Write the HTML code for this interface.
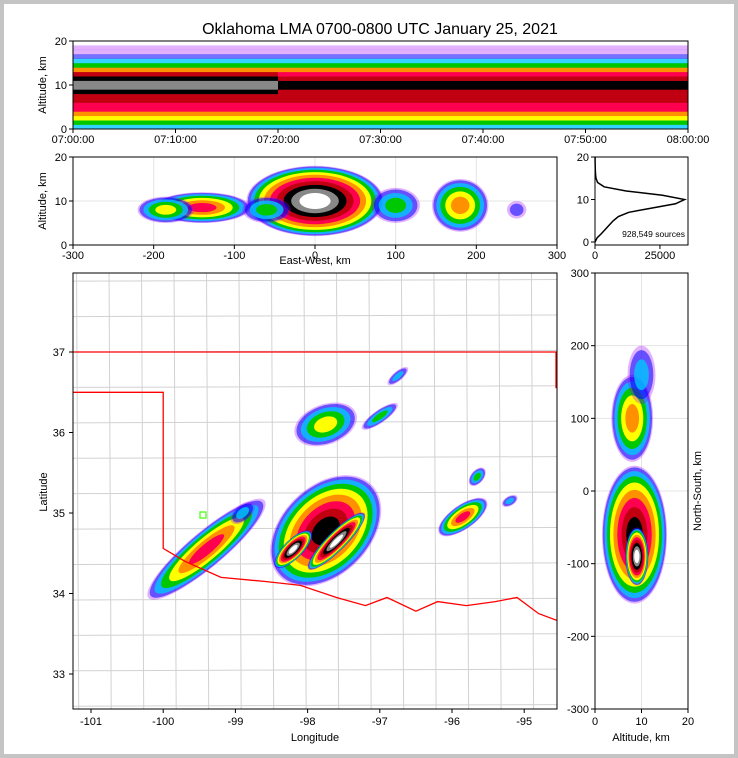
<!DOCTYPE html>
<html><head><meta charset="utf-8">
<style>
html,body{margin:0;padding:0;background:#fff}
body{width:738px;height:758px;overflow:hidden;font-family:"Liberation Sans",sans-serif}
#frame{position:absolute;left:0;top:0;width:730px;height:750px;border:4px solid #c4c4c4;background:#fff}
svg{position:absolute;left:0;top:0}
text{font-family:"Liberation Sans",sans-serif;fill:#000}
</style></head>
<body>
<div id="frame"></div>
<svg id="fig" width="738" height="758">
<text x="380" y="34" font-size="16" text-anchor="middle">Oklahoma LMA 0700-0800 UTC January 25, 2021</text>
</svg>
<script>
// ---- data ----
const levelColors=['#ffffff','#a000ff','#0000ff','#00c8ff','#00c800','#ffff00','#ff9000','#ff0050','#c00010','#000000','#888888','#ffffff'];
const levelOpacity=[0,0.3,0.55,0.8,1,1,1,1,1,1,1,1];
const timeTicks=['07:00:00','07:10:00','07:20:00','07:30:00','07:40:00','07:50:00','08:00:00'];
const altBins=[0,1,2,3,4,5,6,7,8,9,10,11,12,13,14,15,16,17,18,19];
const profileEarly=[3,4,5,6,7,7,8,8,9,10,10,9,8,6,4,3,2,1,1,0];
const profileLate=[3,4,5,6,7,7,8,8,8,9,9,8,7,6,4,3,2,1,1,0];
const segStart=[0,20];
const segEnd=[20,60];
// EW vs altitude blobs: x km, z km, half-width km, half-height km, peak level
const ewX=[0,-140,-185,180,100,250,-60];
const ewZ=[10,8.5,8,9,9,8,8];
const ewW=[85,60,35,35,30,12,30];
const ewH=[8,3.5,3,6,4,2,3];
const ewPeak=[11,7,5,6,4,2,4];
// histogram: sources per altitude km
const histAlt=[0,1,2,3,4,5,6,7,8,9,10,11,12,13,14,15,16,17,18,19,20];
const histCount=[0,800,2500,4000,5500,7000,9000,13000,22000,31000,34500,26000,12000,3500,1000,400,200,120,80,50,30];
// map blobs: lon, lat, major half (deg lon), minor half (deg), screen angle, peak
const mapLon=[-97.75,-99.4,-97.75,-95.85,-97.0,-95.65,-96.75,-95.2,-98.2,-97.6,-98.9];
const mapLat=[34.78,34.55,36.1,34.95,36.2,35.45,36.7,35.15,34.55,34.65,35.0];
const mapA=[0.9,1.05,0.45,0.4,0.3,0.15,0.18,0.12,0.35,0.55,0.2];
const mapB=[0.55,0.22,0.25,0.15,0.08,0.08,0.06,0.06,0.12,0.12,0.1];
const mapAng=[-45,-40,-20,-35,-35,-50,-40,-30,-45,-45,-40];
const mapPeak=[9,7,5,7,4,4,3,3,11,11,3];
// NS vs altitude blobs: alt km, y km, half alt, half y, peak
const nsAlt=[8.5,9,8,10];
const nsY=[-60,-90,100,160];
const nsHA=[7,2.5,4.5,3];
const nsHY=[95,40,60,40];
const nsPeak=[9,11,6,3];
const lonTicks=[-101,-100,-99,-98,-97,-96,-95];
const latTicks=[33,34,35,36,37];

// ---- helpers ----
const NS='http://www.w3.org/2000/svg';
const svg=document.getElementById('fig');
function el(tag,attrs,parent){const e=document.createElementNS(NS,tag);for(const k in attrs)e.setAttribute(k,attrs[k]);(parent||svg).appendChild(e);return e;}
function txt(x,y,s,size,anchor,parent,rot){const t=el('text',{x:x,y:y,'font-size':size,'text-anchor':anchor||'middle'},parent);if(rot)t.setAttribute('transform','rotate('+rot+' '+x+' '+y+')');t.textContent=s;return t;}
function blob(g,cx,cy,rx,ry,ang,peak){
  for(let k=1;k<=peak;k++){
    const f=1-Math.pow((k-1)/peak,1.6)*0.9;
    const e=el('ellipse',{cx:cx,cy:cy,rx:Math.max(rx*f,0.8),ry:Math.max(ry*f,0.8),fill:levelColors[k],'fill-opacity':levelOpacity[k],transform:'rotate('+ang+' '+cx+' '+cy+')'},g);
    
    
  }
}
function frameRect(x0,y0,x1,y1,name){const r=el('rect',{x:x0,y:y0,width:x1-x0,height:y1-y0,fill:'none',stroke:'#000','stroke-width':1});}

// ---- time-height panel ----
const T={x0:73,x1:688,y0:41,y1:129};
const tx=m=>T.x0+(T.x1-T.x0)*m/60, tz=z=>T.y1-(T.y1-T.y0)*z/20;
const gT=el('g',{});
for(let s=0;s<segStart.length;s++){
  const prof=s===0?profileEarly:profileLate;
  altBins.forEach((z,i)=>{const r=el('rect',{x:tx(segStart[s]),y:tz(z+1),width:tx(segEnd[s])-tx(segStart[s]),height:tz(z)-tz(z+1)+0.3,fill:levelColors[prof[i]],'fill-opacity':levelOpacity[prof[i]]},gT);
    });
}
frameRect(T.x0,T.y0,T.x1,T.y1,'time-height-axes');
[0,10,20].forEach(v=>{el('line',{x1:T.x0-4,x2:T.x0,y1:tz(v),y2:tz(v),stroke:'#000'});txt(T.x0-6,tz(v)+4,v,11,'end');});
timeTicks.forEach((s,i)=>{const x=tx(i*10);el('line',{x1:x,x2:x,y1:T.y1,y2:T.y1+4,stroke:'#000'});txt(x,T.y1+14,s,11);});
txt(46,85,'Altitude, km',11,'middle',null,-90);

// ---- EW-height panel ----
const E={x0:73,x1:557,y0:157,y1:245};
const ex=k=>E.x0+(E.x1-E.x0)*(k+300)/600, ez=z=>E.y1-(E.y1-E.y0)*z/20;
const gE=el('g',{});
[-200,-100,0,100,200].forEach(v=>el('line',{x1:ex(v),x2:ex(v),y1:E.y0,y2:E.y1,stroke:'#e4e4e4'},gE));
el('line',{x1:E.x0,x2:E.x1,y1:ez(10),y2:ez(10),stroke:'#e4e4e4'},gE);
ewX.forEach((x,i)=>blob(gE,ex(x),ez(ewZ[i]),ewW[i]*(E.x1-E.x0)/600,ewH[i]*(E.y1-E.y0)/20,0,ewPeak[i]));
frameRect(E.x0,E.y0,E.x1,E.y1,'ew-height-axes');
[0,10,20].forEach(v=>{el('line',{x1:E.x0-4,x2:E.x0,y1:ez(v),y2:ez(v),stroke:'#000'});txt(E.x0-6,ez(v)+4,v,11,'end');});
[-300,-200,-100,0,100,200,300].forEach(v=>{el('line',{x1:ex(v),x2:ex(v),y1:E.y1,y2:E.y1+4,stroke:'#000'});txt(ex(v),E.y1+14,v,11);});
txt(315,264,'East-West, km',11);
txt(46,201,'Altitude, km',11,'middle',null,-90);

// ---- histogram ----
const H={x0:595,x1:688,y0:157,y1:245};
const hx=c=>H.x0+(H.x1-H.x0)*c/35800;
const hz0=z=>H.y1-3-(H.y1-3-H.y0)*z/20;
const gH=el('g',{});
let d='';histAlt.forEach((z,i)=>{d+=(i?'L':'M')+hx(histCount[i]).toFixed(1)+','+hz0(z).toFixed(1);});
const hp=el('path',{d:d,fill:'none',stroke:'#000','stroke-width':1.5},gH);
frameRect(H.x0,H.y0,H.x1,H.y1,'histogram-axes');
[0,10,20].forEach(v=>{el('line',{x1:H.x0-4,x2:H.x0,y1:hz0(v),y2:hz0(v),stroke:'#000'});txt(H.x0-6,hz0(v)+4,v,11,'end');});
[0,25000].forEach(v=>{el('line',{x1:hx(v),x2:hx(v),y1:H.y1,y2:H.y1+4,stroke:'#000'});txt(hx(v),H.y1+14,v,11);});
txt(685,237,'928,549 sources',8.5,'end');

// ---- map ----
const M={x0:73,x1:557,y0:273,y1:709};
const mx=l=>91+(l+101)*72.2, my=a=>352+(37-a)*80.5;
const gM=el('g',{});
const cl=el('clipPath',{id:'mc'});el('rect',{x:M.x0,y:M.y0,width:M.x1-M.x0,height:M.y1-M.y0},cl);
const gC=el('g',{'clip-path':'url(#mc)'},gM);
// county-like grid
for(let l=-101.2;l<-94.5;l+=0.45){el('line',{x1:mx(l),x2:mx(l+0.03),y1:M.y0,y2:M.y1,stroke:'#d2d2d2','stroke-width':1},gC);}
for(let a=32.6;a<38;a+=0.44){el('line',{x1:M.x0,x2:M.x1,y1:my(a),y2:my(a+0.02),stroke:'#d2d2d2','stroke-width':1},gC);}
mapLon.forEach((l,i)=>blob(gC,mx(l),my(mapLat[i]),mapA[i]*72.2,mapB[i]*80.5,mapAng[i],mapPeak[i]));
// Oklahoma border
const ok=[[-101.3,37],[-94.5,37]];
const pan=[[-101.3,36.5],[-100,36.5],[-100,34.56],[-99.7,34.4],[-99.2,34.2],[-98.6,34.15],[-98.1,34.1],[-97.6,33.95],[-97.2,33.85],[-96.9,33.95],[-96.5,33.78],[-96.2,33.9],[-95.8,33.85],[-95.4,33.9],[-95.1,33.95],[-94.8,33.75],[-94.5,33.65]];
[ok,pan].forEach(p=>{let dd='';p.forEach((q,i)=>dd+=(i?'L':'M')+mx(q[0]).toFixed(1)+','+my(q[1]).toFixed(1));const pb=el('path',{d:dd,fill:'none',stroke:'#ff0000','stroke-width':1.3},gC);});
el('line',{x1:556,x2:556,y1:my(37),y2:my(36.55),stroke:'#ff0000','stroke-width':1.3},gC);
el('rect',{x:200,y:512,width:6,height:6,fill:'none',stroke:'#66ff33','stroke-width':1.5},gC);
frameRect(M.x0,M.y0,M.x1,M.y1,'map-axes');
lonTicks.forEach(v=>{el('line',{x1:mx(v),x2:mx(v),y1:M.y1,y2:M.y1+4,stroke:'#000'});txt(mx(v),M.y1+16,v,11);});
latTicks.forEach(v=>{el('line',{x1:M.x0-4,x2:M.x0,y1:my(v),y2:my(v),stroke:'#000'});txt(M.x0-8,my(v)+4,v,11,'end');});
txt(315,741,'Longitude',11);
txt(47,492,'Latitude',11,'middle',null,-90);

// ---- NS-height panel ----
const N={x0:595,x1:688,y0:273,y1:709};
const nx=z=>N.x0+(N.x1-N.x0)*z/20, ny=k=>N.y1-(N.y1-N.y0)*(k+300)/600;
const gN=el('g',{});
[-200,-100,0,100,200].forEach(v=>el('line',{x1:N.x0,x2:N.x1,y1:ny(v),y2:ny(v),stroke:'#e4e4e4'},gN));
el('line',{x1:nx(10),x2:nx(10),y1:N.y0,y2:N.y1,stroke:'#e4e4e4'},gN);
nsAlt.forEach((z,i)=>blob(gN,nx(z),ny(nsY[i]),nsHA[i]*(N.x1-N.x0)/20,nsHY[i]*(N.y1-N.y0)/600,0,nsPeak[i]));
frameRect(N.x0,N.y0,N.x1,N.y1,'ns-height-axes');
[-300,-200,-100,0,100,200,300].forEach(v=>{el('line',{x1:N.x0-4,x2:N.x0,y1:ny(v),y2:ny(v),stroke:'#000'});txt(N.x0-6,ny(v)+4,v,11,'end');});
[0,10,20].forEach(v=>{el('line',{x1:nx(v),x2:nx(v),y1:N.y1,y2:N.y1+4,stroke:'#000'});txt(nx(v),N.y1+16,v,11);});
txt(641,741,'Altitude, km',11);
txt(701,491,'North-South, km',11,'middle',null,-90);
</script>
</body></html>
